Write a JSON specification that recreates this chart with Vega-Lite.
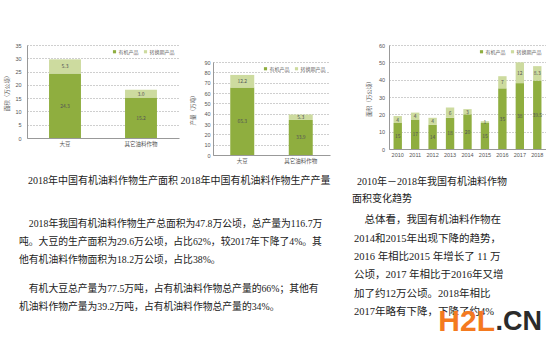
{
  "$schema": "https://vega.github.io/schema/vega-lite/v6.json",
  "background": "white",
  "padding": {"left": 4, "top": 43, "right": 0, "bottom": 0},
  "spacing": 7,
  "resolve": {"scale": {"color": "independent"}, "legend": {"color": "independent"}},
  "vconcat": [
    {
      "resolve": {"scale": {"color": "independent"}, "legend": {"color": "independent"}},
      "hconcat": [
        {
          "resolve": {"scale": {"color": "independent"}, "legend": {"color": "independent"}},
          "hconcat": [
            {
              "width": 152,
              "height": 93,
              "title": {"text": "2018年中国有机油料作物生产面积", "orient": "bottom", "anchor": "middle", "frame": "group", "offset": 29},
              "data": {"values": [
                {"c": "大豆", "s": "有机产品", "v": 24.3},
                {"c": "大豆", "s": "转换期产品", "v": 5.3},
                {"c": "其它油料作物", "s": "有机产品", "v": 15.2},
                {"c": "其它油料作物", "s": "转换期产品", "v": 3.0}
              ]},
              "encoding": {
                "x": {"field": "c", "type": "nominal", "sort": ["大豆", "其它油料作物"], "scale": {"paddingInner": 0.58, "paddingOuter": 0.29}, "axis": {"title": null}}
              },
              "layer": [
                {
                  "mark": {"type": "bar"},
                  "encoding": {
                    "y": {"field": "v", "type": "quantitative", "stack": "zero", "scale": {"domain": [0, 35], "nice": false}, "axis": {"title": "面积（万公顷）", "values": [0, 5, 10, 15, 20, 25, 30, 35], "labelPadding": 6, "titlePadding": 5}},
                    "color": {"field": "s", "type": "nominal", "scale": {"domain": ["有机产品", "转换期产品"], "range": ["#8fae3f", "#cddb9f"]}, "legend": {"title": null}},
                    "order": {"field": "s"}
                  }
                },
                {
                  "transform": [
                    {"stack": "v", "groupby": ["c"], "sort": [{"field": "s", "order": "ascending"}], "as": ["v0", "v1"]},
                    {"fold": ["v0", "v1"], "as": ["k", "pos"]}
                  ],
                  "mark": {"type": "text", "fontSize": 5, "color": "#555"},
                  "encoding": {
                    "y": {"field": "pos", "type": "quantitative", "aggregate": "mean", "axis": {"title": "面积（万公顷）", "values": [0, 5, 10, 15, 20, 25, 30, 35], "labelPadding": 6, "titlePadding": 5}},
                    "detail": {"field": "s"},
                    "text": {"field": "v", "type": "quantitative", "format": ".1f"}
                  }
                }
              ]
            },
            {
              "resolve": {"scale": {"color": "independent"}, "legend": {"color": "independent"}},
              "spacing": 0,
              "vconcat": [
                {
                  "width": 117,
                  "height": 15,
                  "data": {"values": []},
                  "mark": {"type": "point"}
                },
                {
                  "width": 117,
                  "height": 93,
                  "title": {"text": "2018年中国有机油料作物生产产量", "orient": "bottom", "anchor": "middle", "frame": "group", "offset": 12, "dx": -16},
                  "data": {"values": [
                    {"c": "大豆", "s": "有机产品", "v": 65.3},
                    {"c": "大豆", "s": "转换期产品", "v": 12.2},
                    {"c": "其它油料作物", "s": "有机产品", "v": 33.9},
                    {"c": "其它油料作物", "s": "转换期产品", "v": 5.3}
                  ]},
                  "encoding": {
                    "x": {"field": "c", "type": "nominal", "sort": ["大豆", "其它油料作物"], "scale": {"paddingInner": 0.59, "paddingOuter": 0.295}, "axis": {"title": null}}
                  },
                  "layer": [
                    {
                      "mark": {"type": "bar"},
                      "encoding": {
                        "y": {"field": "v", "type": "quantitative", "stack": "zero", "scale": {"domain": [0, 90], "nice": false}, "axis": {"title": "产量（万吨）", "values": [0, 10, 20, 30, 40, 50, 60, 70, 80, 90], "labelPadding": 3, "titlePadding": 8}},
                        "color": {"field": "s", "type": "nominal", "scale": {"domain": ["有机产品", "转换期产品"], "range": ["#8fae3f", "#cddb9f"]}, "legend": {"title": null}},
                        "order": {"field": "s"}
                      }
                    },
                    {
                      "transform": [
                        {"stack": "v", "groupby": ["c"], "sort": [{"field": "s", "order": "ascending"}], "as": ["v0", "v1"]},
                        {"fold": ["v0", "v1"], "as": ["k", "pos"]}
                      ],
                      "mark": {"type": "text", "fontSize": 5, "color": "#555"},
                      "encoding": {
                        "y": {"field": "pos", "type": "quantitative", "aggregate": "mean", "axis": {"title": "产量（万吨）", "values": [0, 10, 20, 30, 40, 50, 60, 70, 80, 90], "labelPadding": 3, "titlePadding": 8}},
                        "detail": {"field": "s"},
                        "text": {"field": "v", "type": "quantitative", "format": ".1f"}
                      }
                    }
                  ]
                }
              ]
            }
          ],
          "spacing": 1
        },
        {
          "width": 157,
          "height": 104,
          "title": {"text": ["\u200b\u20022010年－2018年我国有机油料作物", "面积变化趋势"], "orient": "bottom", "anchor": "start", "frame": "group", "offset": 19, "dx": -37, "lineHeight": 17},
          "data": {"values": [
            {"c": "2010", "s": "有机产品", "v": 15}, {"c": "2010", "s": "转换期产品", "v": 4},
            {"c": "2011", "s": "有机产品", "v": 17}, {"c": "2011", "s": "转换期产品", "v": 4},
            {"c": "2012", "s": "有机产品", "v": 14}, {"c": "2012", "s": "转换期产品", "v": 4},
            {"c": "2013", "s": "有机产品", "v": 18}, {"c": "2013", "s": "转换期产品", "v": 6},
            {"c": "2014", "s": "有机产品", "v": 20}, {"c": "2014", "s": "转换期产品", "v": 3},
            {"c": "2015", "s": "有机产品", "v": 15}, {"c": "2015", "s": "转换期产品", "v": 1},
            {"c": "2016", "s": "有机产品", "v": 35}, {"c": "2016", "s": "转换期产品", "v": 7},
            {"c": "2017", "s": "有机产品", "v": 38}, {"c": "2017", "s": "转换期产品", "v": 12},
            {"c": "2018", "s": "有机产品", "v": 39.5}, {"c": "2018", "s": "转换期产品", "v": 8.3}
          ]},
          "encoding": {
            "x": {"field": "c", "type": "ordinal", "scale": {"paddingInner": 0.52, "paddingOuter": 0.26}, "axis": {"title": null}}
          },
          "layer": [
            {
              "mark": {"type": "bar"},
              "encoding": {
                "y": {"field": "v", "type": "quantitative", "stack": "zero", "scale": {"domain": [0, 60], "nice": false}, "axis": {"title": "面积（万公顷）", "values": [0, 10, 20, 30, 40, 50, 60], "labelPadding": 4.5, "titlePadding": 6.5}},
                "color": {"field": "s", "type": "nominal", "scale": {"domain": ["有机产品", "转换期产品"], "range": ["#8fae3f", "#cddb9f"]}, "legend": {"title": null}},
                "order": {"field": "s"}
              }
            },
            {
              "transform": [
                {"stack": "v", "groupby": ["c"], "sort": [{"field": "s", "order": "ascending"}], "as": ["v0", "v1"]},
                {"fold": ["v0", "v1"], "as": ["k", "pos"]}
              ],
              "mark": {"type": "text", "fontSize": 5, "color": "#555"},
              "encoding": {
                "y": {"field": "pos", "type": "quantitative", "aggregate": "mean", "axis": {"title": "面积（万公顷）", "values": [0, 10, 20, 30, 40, 50, 60], "labelPadding": 4.5, "titlePadding": 6.5}},
                "detail": {"field": "s"},
                "text": {"field": "v", "type": "nominal"}
              }
            }
          ]
        }
      ],
      "spacing": 21
    },
    {
      "hconcat": [
        {
          "vconcat": [
            {
              "width": 325,
              "height": 62,
              "data": {"values": [
                {"line": 1, "text": "\u200b\u2002\u20022018年我国有机油料作物生产总面积为47.8万公顷，总产量为116.7万"},
                {"line": 2, "text": "吨。大豆的生产面积为29.6万公顷，占比62%，较2017年下降了4%。其"},
                {"line": 3, "text": "他有机油料作物面积为18.2万公顷，占比38%。"}
              ]},
              "mark": {"type": "text", "align": "left", "dx": -8, "fontSize": 9.8, "font": "Liberation Serif, Noto Sans CJK SC", "color": "#222"},
              "encoding": {
                "y": {"field": "line", "type": "ordinal", "axis": null, "scale": {"padding": 0.722}},
                "x": {"value": 0},
                "text": {"field": "text", "type": "nominal"}
              }
            },
            {
              "width": 325,
              "height": 36,
              "data": {"values": [
                {"line": 1, "text": "\u200b\u2002\u2002有机大豆总产量为77.5万吨，占有机油料作物总产量的66%；其他有"},
                {"line": 2, "text": "机油料作物产量为39.2万吨，占有机油料作物总产量的34%。"}
              ]},
              "mark": {"type": "text", "align": "left", "dx": -8, "fontSize": 9.8, "font": "Liberation Serif, Noto Sans CJK SC", "color": "#222"},
              "encoding": {
                "y": {"field": "line", "type": "ordinal", "axis": null, "scale": {"padding": 0.5}},
                "x": {"value": 0},
                "text": {"field": "text", "type": "nominal"}
              }
            }
          ],
          "spacing": 7
        },
        {
          "width": 188,
          "height": 110,
          "layer": [
            {
              "data": {"values": [
                {"line": 1, "text": "\u200b\u2002\u2002总体看，我国有机油料作物在"},
                {"line": 2, "text": "2014和2015年出现下降的趋势，"},
                {"line": 3, "text": "2016 年相比2015 年增长了 11 万"},
                {"line": 4, "text": "公顷，2017 年相比于2016年又增"},
                {"line": 5, "text": "加了约12万公顷。2018年相比"},
                {"line": 6, "text": "2017年略有下降，下降了约4%"}
              ]},
              "mark": {"type": "text", "align": "left", "fontSize": 10.5, "font": "Liberation Serif, Noto Sans CJK SC", "color": "#222"},
              "encoding": {
                "y": {"field": "line", "type": "ordinal", "axis": null, "scale": {"padding": 0.5}},
                "x": {"value": 0},
                "text": {"field": "text", "type": "nominal"}
              }
            },
            {
              "data": {"values": [{"line": 6, "w": "H2L"}]},
              "mark": {"type": "text", "align": "right", "dx": -47, "dy": 10, "fontSize": 30, "fontWeight": "bold", "font": "Liberation Sans", "color": "#f47a1f"},
              "encoding": {
                "y": {"field": "line", "type": "ordinal"},
                "x": {"value": "width"},
                "text": {"field": "w", "type": "nominal"}
              }
            },
            {
              "data": {"values": [{"line": 6, "w": ".CN"}]},
              "mark": {"type": "text", "align": "right", "dy": 10, "fontSize": 27, "fontWeight": "bold", "font": "Liberation Sans", "color": "#2b2b2b"},
              "encoding": {
                "y": {"field": "line", "type": "ordinal"},
                "x": {"value": "width"},
                "text": {"field": "w", "type": "nominal"}
              }
            }
          ]
        }
      ],
      "spacing": 2
    }
  ],
  "config": {
    "view": {"stroke": null},
    "font": "Noto Sans CJK SC",
    "axis": {"labelFontSize": 5.5, "titleFontSize": 5.5, "labelColor": "#555", "titleColor": "#555", "domainColor": "#999", "ticks": false, "labelOverlap": false, "labelFont": "Liberation Sans, Noto Sans CJK SC", "titleFont": "Noto Sans CJK SC", "titleFontWeight": "normal"},
    "axisY": {"gridDash": [1, 2], "gridColor": "#888", "gridOpacity": 0.8},
    "axisX": {"grid": false, "labelAngle": 0, "labelPadding": 3},
    "legend": {"orient": "top-right", "direction": "horizontal", "symbolType": "square", "symbolSize": 10, "labelFontSize": 5, "labelColor": "#666", "columnPadding": 4, "labelOffset": 1.5, "offset": 4, "padding": 0, "symbolStrokeWidth": 0},
    "title": {"fontSize": 10, "font": "Liberation Serif, Noto Sans CJK SC", "fontWeight": "normal", "color": "#222"}
  }
}
